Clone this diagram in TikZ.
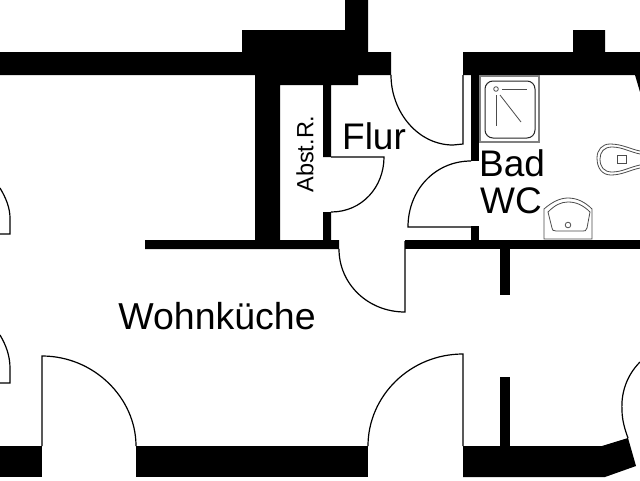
\documentclass[tikz,border=0pt]{standalone}
\usepackage{fontspec}
\setmainfont{Liberation Sans}
\tikzset{
  wall/.style={fill=black,draw=none},
  door/.style={draw=black,line width=1.2pt},
  fixture/.style={draw=black!70,line width=0.8pt},
  label/.style={inner sep=0pt,text=black},
}
\begin{document}
\begin{tikzpicture}[x=1pt,y=-1pt]
\useasboundingbox (0,0) rectangle (640,480);
\fill[white] (0,0) rectangle (640,480);
% walls
\path[wall] (0,52) -| (242,30) -| (345,0) -| (368,52) -| (391,75) -| (358,85) -| (331,157) -| (323,85) -| (280,240) -| (323,212) -| (331,240) -| (339,249) -| (145,240) -| (255,75) -| (0,52) -- cycle;
\path[wall] (463,52) -| (573,30) -| (605,52) -| (640,75) -- (463,75) -- cycle;
\path[wall] (471,75) rectangle (479,161);
\path[wall] (635,75) -- (640,75) -- (640,92) -- cycle;
\path[wall] (471,226) rectangle (479,241);
\path[wall] (405,240) rectangle (640,249);
\path[wall] (500,249) rectangle (510,295);
\path[wall] (500,377) rectangle (510,447);
\path[wall] (0,446) rectangle (42,477);
\path[wall] (136,446) rectangle (368,477);
\path[wall] (463,446) -- (602,446) -- (628,438) -- (636,466) -- (605,477) -- (463,477) -- cycle;
% doors
\draw[door] (391,75) .. controls (391,112) and (418,145) .. (453,145) -- (463,144) -- (463,75);
\draw[door] (331,157) -- (384,157) .. controls (384,187) and (362,212) .. (331,212);
\draw[door] (471,161) .. controls (435,161) and (408,190) .. (408,227) -- (471,227);
\draw[door] (405,241) -- (405,312) .. controls (368,312) and (339,284) .. (339,249);
\draw[door] (42,446) -- (42,356) .. controls (94,356) and (136,398) .. (136,446);
\draw[door] (463,446) -- (463,354) .. controls (410,354) and (368,396) .. (368,446);
\draw[door] (640,362) .. controls (626,376) and (621,394) .. (622,410) .. controls (622,420) and (625,430) .. (628,438);
\draw[door] (0,188) .. controls (6,198) and (10,208) .. (10,218) -- (10,234) -- (0,234);
\draw[door] (0,335) .. controls (6,345) and (10,356) .. (10,368) -- (10,383) -- (0,383);
% shower
\draw[draw=black!50,line width=1.1pt] (480,76) rectangle (539,142);
\draw[draw=black!85,line width=1pt,rounded corners=8pt] (485,81) rectangle (535,138);
\draw[fixture] (496,89) circle (2.3);
\draw[fixture] (502,89) -- (527,89);
\draw[fixture] (496,95) -- (496,126);
\draw[fixture] (500,95) -- (521,122);
% sink
\draw[fixture] (544,239) -- (544,209) .. controls (552,202) and (560,198) .. (568,198) .. controls (577,198) and (585,202) .. (592,209) -- (592,239) -- cycle;
\draw[fixture] (548,212) .. controls (555,205) and (561,202) .. (568,202) .. controls (576,202) and (583,205) .. (590,212) -- (587,228) .. controls (586,231) and (585,231) .. (583,231) -- (556,231) .. controls (553,231) and (552,230) .. (552,228) -- cycle;
\draw[fixture] (568,225) circle (2.8);
% toilet
\draw[fixture] (640,151) .. controls (630,149) and (622,144) .. (610,144) .. controls (602,144) and (597,150) .. (597,158) .. controls (597,168) and (602,175) .. (611,175) .. controls (622,175) and (630,170) .. (640,168);
\draw[fixture] (640,154) .. controls (630,152) and (622,147) .. (612,147) .. controls (604,147) and (600,152) .. (600,159) .. controls (600,167) and (604,172) .. (612,172) .. controls (622,172) and (630,167) .. (640,165);
\draw[fixture] (617,155) rectangle (626,163);
% labels
\node[label,font=\fontsize{37.5}{37.5}\selectfont] (wk) at (217,316) {Wohnküche};
\node[label,font=\fontsize{37}{37}\selectfont] (fl) at (374,136) {Flur};
\node[label,font=\fontsize{37}{37}\selectfont] (bd) at (512,163) {Bad};
\node[label,font=\fontsize{37}{37}\selectfont] (wc) at (511,201) {WC};
\node[label,font=\fontsize{23.5}{23.5}\selectfont,rotate=90] (ab) at (305,154) {Abst.R.};
\end{tikzpicture}
\end{document}
